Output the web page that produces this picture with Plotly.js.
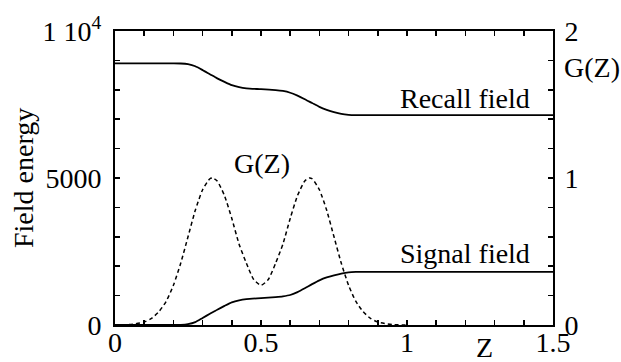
<!DOCTYPE html>
<html>
<head>
<meta charset="utf-8">
<script src="https://cdn.plot.ly/plotly-3.0.1.min.js"></script>
<style>html,body{margin:0;padding:0;background:#fff;}#chart{width:621px;height:362px;}</style>
</head>
<body>
<div id="chart"></div>
<script>
// Z positions for the field curves
const zField = [0, 0.05, 0.1, 0.15, 0.2, 0.225, 0.25, 0.275, 0.3, 0.325, 0.35, 0.375, 0.4, 0.425, 0.45, 0.5, 0.55, 0.575, 0.6, 0.625, 0.65, 0.675, 0.7, 0.725, 0.75, 0.775, 0.8, 0.825, 0.85, 0.9, 1.0, 1.2, 1.5];
const recallField = [8900, 8900, 8900, 8900, 8900, 8895, 8870, 8800, 8670, 8530, 8390, 8270, 8160, 8090, 8050, 8020, 7990, 7960, 7900, 7800, 7680, 7550, 7420, 7320, 7240, 7180, 7150, 7140, 7140, 7140, 7140, 7140, 7140];
const signalField = [0, 0, 0, 0, 0, 5, 30, 100, 240, 380, 520, 650, 770, 840, 880, 915, 950, 975, 1020, 1120, 1250, 1390, 1520, 1620, 1690, 1750, 1790, 1805, 1810, 1810, 1810, 1810, 1810];

// Z positions for G(Z)
const zG = [0, 0.05, 0.1, 0.125, 0.15, 0.175, 0.2, 0.225, 0.25, 0.275, 0.3, 0.325, 0.335, 0.35, 0.375, 0.4, 0.425, 0.45, 0.475, 0.5, 0.525, 0.55, 0.575, 0.6, 0.625, 0.65, 0.665, 0.675, 0.7, 0.725, 0.75, 0.775, 0.8, 0.825, 0.85, 0.875, 0.9, 0.95, 1.0];
const gValues = [0, 0.003, 0.02, 0.045, 0.09, 0.16, 0.27, 0.42, 0.6, 0.78, 0.92, 0.995, 1.0, 0.98, 0.88, 0.725, 0.55, 0.42, 0.31, 0.27, 0.31, 0.42, 0.55, 0.725, 0.88, 0.98, 1.0, 0.995, 0.92, 0.78, 0.6, 0.42, 0.27, 0.16, 0.09, 0.045, 0.02, 0.003, 0];

// tick labels
const xTickVals = [0, 0.1, 0.2, 0.3, 0.4, 0.5, 0.6, 0.7, 0.8, 0.9, 1.0, 1.1, 1.2, 1.3, 1.4, 1.5];
const xTickText = ['0', '', '', '', '', '0.5', '', '', '', '', '1', '', '', '', '', '1.5'];
const yTickVals = [0, 1000, 2000, 3000, 4000, 5000, 6000, 7000, 8000, 9000, 10000];
const yTickText = ['0', '', '', '', '', '5000', '', '', '', '', '1 10<sup>4</sup>'];
const y2TickVals = [0, 0.2, 0.4, 0.6, 0.8, 1.0, 1.2, 1.4, 1.6, 1.8, 2.0];
const y2TickText = ['0', '', '', '', '', '1', '', '', '', '', '2'];

const FONT = 'Liberation Serif';
const FS = 28;

const traces = [
  {x: zField, y: recallField, type: 'scatter', mode: 'lines', line: {color: '#000', width: 1.8, shape: 'spline', smoothing: 0.6}, hoverinfo: 'skip'},
  {x: zField, y: signalField, type: 'scatter', mode: 'lines', line: {color: '#000', width: 1.8, shape: 'spline', smoothing: 0.6}, hoverinfo: 'skip'},
  {x: zG, y: gValues, type: 'scatter', mode: 'lines', yaxis: 'y2', line: {color: '#000', width: 1.5, dash: '4px,3px', shape: 'spline', smoothing: 0.6}, hoverinfo: 'skip'}
];

const axisCommon = {
  showgrid: false, zeroline: false, showline: true, linecolor: '#000', linewidth: 2,
  ticks: 'inside', ticklen: 5, tickwidth: 1.5, tickcolor: '#000',
  tickfont: {family: FONT, size: FS, color: '#000'}
};

const layout = {
  width: 621, height: 362,
  margin: {l: 115, r: 68, t: 31, b: 37, pad: 0},
  paper_bgcolor: '#fff', plot_bgcolor: '#fff',
  showlegend: false,
  font: {family: FONT, size: FS, color: '#000'},
  xaxis: Object.assign({}, axisCommon, {range: [0, 1.5], tickmode: 'array', tickvals: xTickVals, ticktext: xTickText, mirror: 'ticks', ticklabelstandoff: -9}),
  yaxis: Object.assign({}, axisCommon, {range: [0, 10000], tickmode: 'array', tickvals: yTickVals, ticktext: yTickText, ticklabelstandoff: 6}),
  yaxis2: Object.assign({}, axisCommon, {range: [0, 2], overlaying: 'y', side: 'right', tickmode: 'array', tickvals: y2TickVals, ticktext: y2TickText, ticklabelstandoff: 4}),
  annotations: [
    {text: 'Field energy', xref: 'paper', yref: 'paper', x: -0.21, y: 0.5, textangle: -90, showarrow: false, xanchor: 'center', yanchor: 'middle', font: {family: FONT, size: FS}},
    {text: 'Z', xref: 'x', yref: 'paper', x: 1.264, y: -0.078, showarrow: false, xanchor: 'center', yanchor: 'middle', font: {family: FONT, size: FS}},
    {text: 'G(Z)', xref: 'paper', yref: 'paper', x: 1.09, y: 0.875, showarrow: false, xanchor: 'center', yanchor: 'middle', font: {family: FONT, size: FS}},
    {text: 'Recall field', xref: 'x', yref: 'y', x: 1.199, y: 7720, showarrow: false, xanchor: 'center', yanchor: 'middle', font: {family: FONT, size: FS}},
    {text: 'Signal field', xref: 'x', yref: 'y', x: 1.199, y: 2420, showarrow: false, xanchor: 'center', yanchor: 'middle', font: {family: FONT, size: FS}},
    {text: 'G(Z)', xref: 'x', yref: 'y', x: 0.505, y: 5480, showarrow: false, xanchor: 'center', yanchor: 'middle', font: {family: FONT, size: FS}}
  ]
};

Plotly.newPlot('chart', traces, layout, {staticPlot: true, displayModeBar: false});
</script>
</body>
</html>
